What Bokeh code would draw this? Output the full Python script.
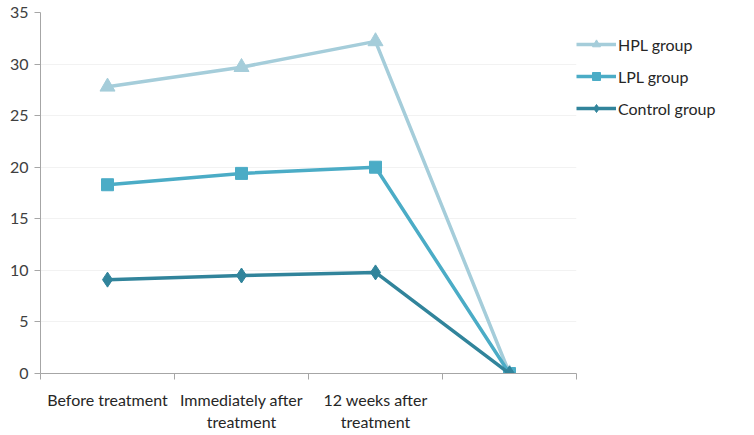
from bokeh.plotting import figure
from bokeh.models import FixedTicker, Range1d, Legend, LegendItem
from bokeh.embed import file_html
from bokeh.resources import INLINE

categories = ["Before treatment", "Immediately after\ntreatment", "12 weeks after\ntreatment", ""]
hpl = [27.8, 29.7, 32.2, 0.0]
lpl = [18.3, 19.4, 20.0, 0.0]
control = [9.1, 9.5, 9.8, 0.0]
y_ticks = [0, 5, 10, 15, 20, 25, 30, 35]

FONT = "Lato"
xs = [i + 0.5 for i in range(len(categories))]

p = figure(frame_width=536, frame_height=361, min_border_left=40, min_border_top=12,
           min_border_bottom=46, min_border_right=162,
           x_range=Range1d(0, len(categories)), y_range=Range1d(0, 35),
           output_backend="svg", toolbar_location=None)
p.outline_line_color = None
p.background_fill_color = "white"
p.border_fill_color = "white"

p.xgrid.grid_line_color = None
p.ygrid.grid_line_color = "#F2F2F2"
p.ygrid.ticker = FixedTicker(ticks=y_ticks)

p.yaxis.ticker = FixedTicker(ticks=y_ticks)
p.yaxis.major_label_text_font = FONT
p.yaxis.major_label_text_font_size = "16px"
p.yaxis.major_label_text_color = "#404040"
p.yaxis.axis_line_color = "#A6A6A6"
p.yaxis.major_tick_line_color = "#A6A6A6"
p.yaxis.major_tick_in = 0
p.yaxis.major_tick_out = 6
p.yaxis.minor_tick_line_color = None
p.yaxis.major_label_standoff = 6

p.xaxis.ticker = FixedTicker(ticks=xs, minor_ticks=list(range(len(categories) + 1)))
p.xaxis.major_label_overrides = {x: c for x, c in zip(xs, categories)}
p.xaxis.major_label_text_font = FONT
p.xaxis.major_label_text_font_size = "16px"
p.xaxis.major_label_text_color = "#262626"
p.xaxis.axis_line_color = "#A6A6A6"
p.xaxis.major_tick_line_color = None
p.xaxis.minor_tick_line_color = "#A6A6A6"
p.xaxis.minor_tick_in = 0
p.xaxis.minor_tick_out = 6
p.xaxis.major_label_standoff = 10

series = [
    ("HPL group", hpl, "#A5CDDA", "triangle", 15),
    ("LPL group", lpl, "#4BACC6", "square", 12),
    ("Control group", control, "#31849B", "diamond", 15),
]
items = []
for name, ys, color, marker, size in series:
    l = p.line(xs, ys, line_color=color, line_width=3.5)
    s = p.scatter(xs, ys, marker=marker, size=size, fill_color=color, line_color=color)
    items.append(LegendItem(label=name, renderers=[l, s]))

legend = Legend(items=items, location=(0, 255), border_line_color=None,
                background_fill_alpha=0, padding=0, margin=0, spacing=12,
                glyph_width=40, glyph_height=20, label_height=20,
                label_text_font=FONT, label_text_font_size="16px",
                label_text_color="#262626", label_standoff=2)
p.add_layout(legend, "right")

open("out.html", "w").write(file_html(p, INLINE))
